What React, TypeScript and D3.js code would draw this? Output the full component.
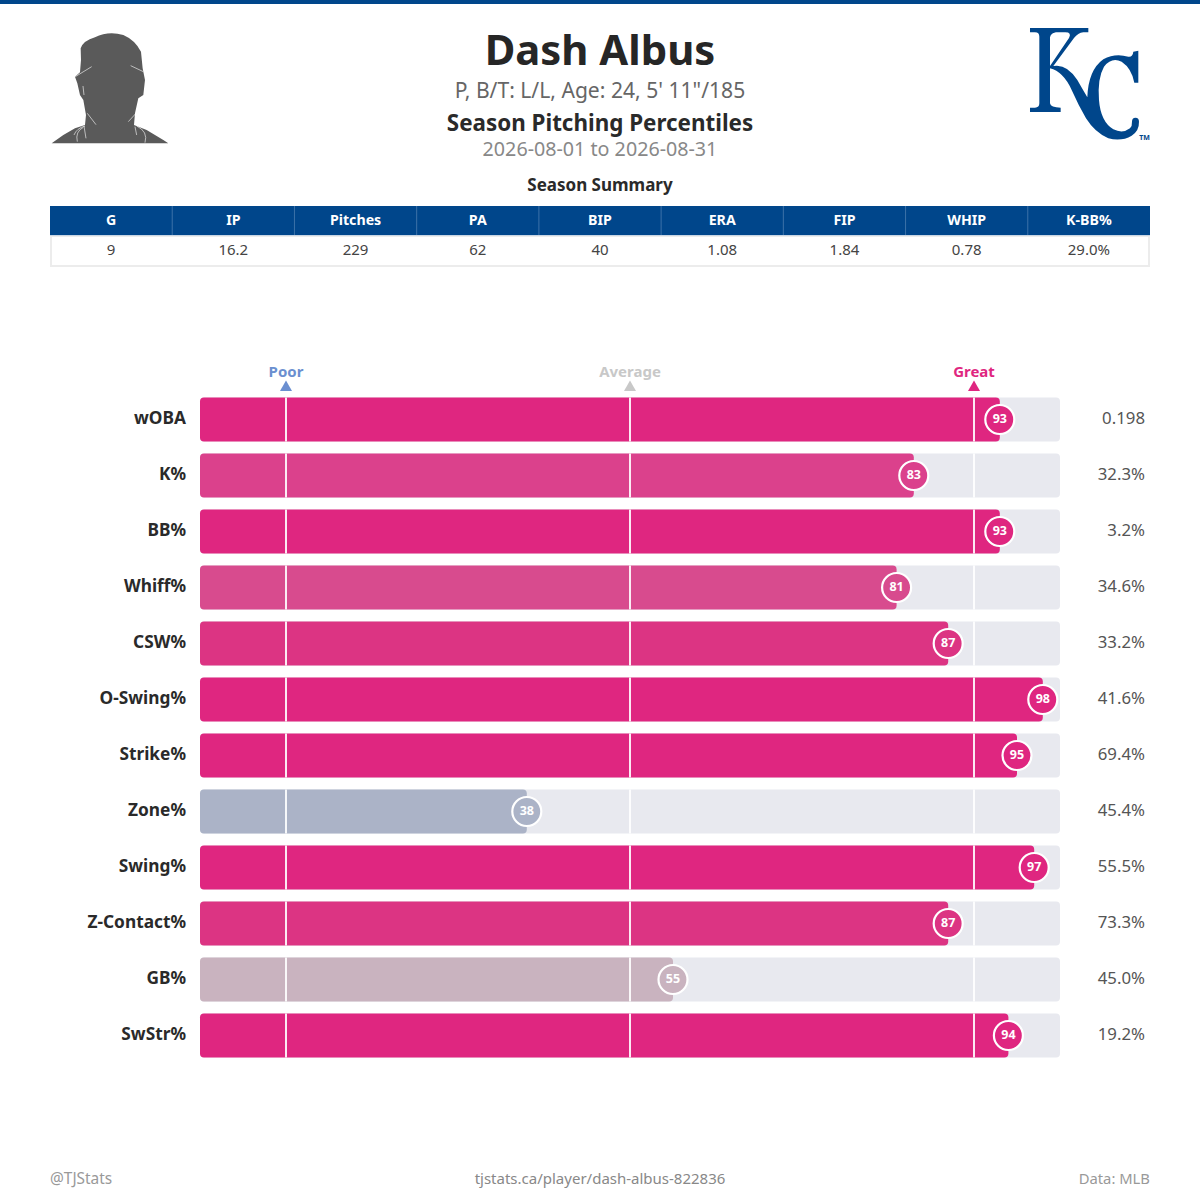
import React from "react";
import * as d3 from "d3";

const playerName = "Dash Albus";
const playerInfo = "P, B/T: L/L, Age: 24, 5' 11\"/185";
const chartTitle = "Season Pitching Percentiles";
const dateRange = "2026-08-01 to 2026-08-31";
const tableTitle = "Season Summary";
const summaryHeaders = ["G", "IP", "Pitches", "PA", "BIP", "ERA", "FIP", "WHIP", "K-BB%"];
const summaryValues = ["9", "16.2", "229", "62", "40", "1.08", "1.84", "0.78", "29.0%"];
const metrics = ["wOBA", "K%", "BB%", "Whiff%", "CSW%", "O-Swing%", "Strike%", "Zone%", "Swing%", "Z-Contact%", "GB%", "SwStr%"];
const percentiles = [93, 83, 93, 81, 87, 98, 95, 38, 97, 87, 55, 94];
const rawValues = ["0.198", "32.3%", "3.2%", "34.6%", "33.2%", "41.6%", "69.4%", "45.4%", "55.5%", "73.3%", "45.0%", "19.2%"];
const markerValues = [10, 50, 90];
const markerLabels = ["Poor", "Average", "Great"];
const markerColors = ["#6b8fd0", "#c8c8c8", "#df2680"];
const colorStops = [38, 55, 81, 83, 87, 93];
const colorRange = ["#abb3c7", "#c9b3bf", "#d84b8e", "#db418c", "#dc3483", "#df2680"];

const FONT = "'Noto Sans', sans-serif";
const NAVY = "#00468b";

const K_PATH =
  "M90 84H180V96Q152 96 150 112V198L207 114Q216 97 196 97H178V84H265V97H250Q234 99 222 114L160 198Q200 190 232 240Q248 268 262 292Q265 210 310 178Q345 158 385 170Q398 172 400 155L415 152V248H403Q395 205 365 185Q335 170 312 200Q292 235 297 300Q302 365 340 388Q368 402 390 385Q397 378 396 365A10 11 0 1 1 417 365Q418 392 395 407Q365 425 325 415Q285 398 258 355Q235 315 215 270Q190 215 150 205V310Q152 323 182 323V336H90V323H105Q118 323 118 310V110Q118 97 105 97H90Z";
const HEAD_PATH =
  "M155 430L190 405L225 385L255 375L258 345L250 300L240 285L232 250L225 230L240 217L243 180L242 145Q250 122 285 112Q325 92 370 105Q405 120 423 155L428 205L435 240L430 285L415 295L405 340L402 375L440 390L490 420L505 430Z";
const HEAD_LINES = [
  "M226 230L275 200", "M392 197L430 215", "M249 258L252 285", "M262 340L288 374", "M385 365L408 340",
  "M222 405Q230 385 255 378", "M232 425Q225 395 250 382", "M252 378L258 415", "M405 380L410 405", "M410 378Q445 395 435 428",
];

export default function App() {
  const x = d3.scaleLinear().domain([0, 100]).range([200, 1060]);
  const color = d3.scaleLinear<string>().domain(colorStops).range(colorRange).clamp(true);
  const cols = d3.scaleBand<string>().domain(summaryHeaders).range([50, 1150]);
  const barH = 44;
  const rowY = (m: string) => 397.5 + metrics.indexOf(m) * 56;

  return (
    <svg width={1200} height={1200} viewBox="0 0 1200 1200" style={{ position: "absolute", left: 0, top: 0, background: "#fff" }} fontFamily={FONT}>
      <rect x={0} y={0} width={1200} height={4} fill={NAVY} />

      <g transform="scale(0.3333)">
        <path d={HEAD_PATH} fill="#5a5a5a" />
        {HEAD_LINES.map((d, i) => <path key={i} d={d} fill="none" stroke="#fff" strokeWidth={1.8} />)}
      </g>
      <g transform="translate(1000,0) scale(0.3333)">
        <path d={K_PATH} fill={NAVY} fillRule="nonzero" />
      </g>
      <text x={1144.5} y={140} fontSize={7} fontWeight={700} fill={NAVY} textAnchor="middle">TM</text>

      <text x={600} y={65} textAnchor="middle" fontSize={41.8} fontWeight={700} fill="#262626">{playerName}</text>
      <text x={600} y={98} textAnchor="middle" fontSize={21.1} fill="#666">{playerInfo}</text>
      <text x={600} y={131} textAnchor="middle" fontSize={22.4} fontWeight={700} fill="#2a2a2a">{chartTitle}</text>
      <text x={600} y={156} textAnchor="middle" fontSize={19.7} fill="#888">{dateRange}</text>
      <text x={600} y={191} textAnchor="middle" fontSize={17} fontWeight={700} fill="#2a2a2a">{tableTitle}</text>

      <rect x={51} y={236} width={1098} height={30} fill="#fff" stroke="#ececec" strokeWidth={2} />
      <rect x={50} y={206} width={1100} height={29} fill={NAVY} />
      <rect x={50} y={235} width={1100} height={1} fill="#c8d6e5" />
      {summaryHeaders.map((h, i) => {
        const cx = cols(h)! + cols.bandwidth() / 2;
        return (
          <g key={h}>
            {i > 0 && <rect x={cols(h)! - 0.5} y={206} width={1} height={29} fill="#3c72a8" />}
            <text x={cx} y={225} textAnchor="middle" fontSize={14.2} fontWeight={700} fill="#fff">{h}</text>
            <text x={cx} y={255} textAnchor="middle" fontSize={15} fill="#444">{summaryValues[i]}</text>
          </g>
        );
      })}

      {markerValues.map((v, i) => (
        <g key={v}>
          <text x={x(v)} y={376.5} textAnchor="middle" fontSize={15} fontWeight={700} fill={markerColors[i]}>{markerLabels[i]}</text>
          <path d={`M${x(v)} 380.5L${x(v) + 6} 391H${x(v) - 6}Z`} fill={markerColors[i]} />
        </g>
      ))}

      {metrics.map((m, i) => {
        const y = rowY(m);
        const p = percentiles[i];
        const cy = y + barH / 2;
        return (
          <g key={m}>
            <text x={186} y={cy + 4} textAnchor="end" fontSize={17.3} fontWeight={700} fill="#2a2a2a">{m}</text>
            <rect x={x(0)} y={y} width={x(100) - x(0)} height={barH} rx={4} fill="#e8e9ef" />
            <rect x={x(0)} y={y} width={x(p) - x(0)} height={barH} rx={4} fill={color(p)} />
            {markerValues.map((v) => (
              <rect key={v} x={x(v) - 1} y={y} width={2} height={barH} fill="#fff" fillOpacity={0.9} />
            ))}
            <circle cx={x(p)} cy={cy} r={14.5} fill={color(p)} stroke="#fff" strokeWidth={2.2} />
            <text x={x(p)} y={cy + 3.8} textAnchor="middle" fontSize={12.5} fontWeight={700} fill="#fff">{p}</text>
            <text x={1145} y={cy + 4} textAnchor="end" fontSize={16.8} fill="#555">{rawValues[i]}</text>
          </g>
        );
      })}

      <text x={50} y={1184} fontSize={15.4} fill="#999">@TJStats</text>
      <text x={600} y={1184} textAnchor="middle" fontSize={15} fill="#888">tjstats.ca/player/dash-albus-822836</text>
      <text x={1150} y={1184} textAnchor="end" fontSize={14.8} fill="#999">Data: MLB</text>
    </svg>
  );
}
